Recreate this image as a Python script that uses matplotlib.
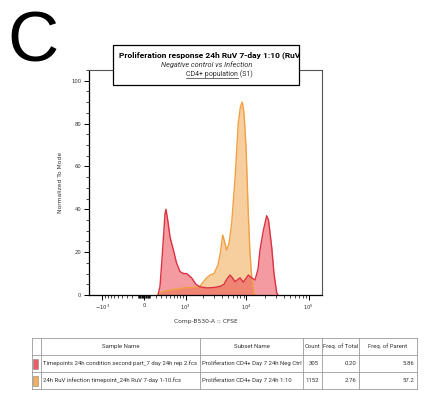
import numpy as np
import matplotlib
matplotlib.use("Agg")
import matplotlib.pyplot as plt
from matplotlib.patches import Rectangle
from matplotlib.lines import Line2D
from matplotlib.transforms import Bbox, TransformedBbox
from matplotlib.ticker import FixedLocator, MultipleLocator

W, H = 444, 393

# CFSE histograms (x = Comp-B530-A, y = % of mode)
neg_x = [244, 283, 333, 387, 409, 456, 505, 593, 683, 793, 918, 1044, 1278, 1512,
         1760, 2300, 2990, 3744, 4347, 4856, 5427, 5958, 6534, 7870, 8900, 10710,
         12150, 13725, 15345, 16515, 18675, 21150, 22635, 25470, 27765, 30690, 32175]
neg_y = [0, 4, 20, 38, 40, 34, 27, 21, 15, 11, 10, 10, 8, 5,
         3.8, 3.3, 3.5, 4, 5, 7.5, 9.3, 8, 6.2, 8, 6, 9.3,
         8, 7, 12, 21, 30, 37, 35, 22.5, 10, 1, 0]

inf_x = [250, 283, 409, 593, 793, 1044, 1364, 1760, 1975, 2273, 2574, 2990, 3474,
         3812, 4140, 4424, 4800, 5229, 5782, 6534, 7380, 8010, 8577, 9135, 9855,
         10710, 11416, 12150, 13230, 13725]
inf_y = [0, 1, 2, 2.5, 3, 3.5, 3.5, 4, 6, 8, 9.3, 10, 14,
         20, 28, 25, 21, 24, 33.5, 53.7, 80, 88, 90, 85, 69,
         38, 19.6, 8.5, 1, 0]

x_ticks = [-1000, 0, 1000, 10000, 100000]
x_tick_labels = ['$-10^3$', '0', '$10^3$', '$10^4$', '$10^5$']
y_ticks = [0, 20, 40, 60, 80, 100]

title_lines = ['Proliferation response 24h RuV 7-day 1:10 (RuV)',
               'Negative control vs Infection',
               'CD4+ population', ' (S1)']

table_header = ['', 'Sample Name', 'Subset Name', 'Count', 'Freq. of Total', 'Freq. of Parent']
sample_names = ['Timepoints 24h condition second part_7 day 24h rep 2.fcs',
                '24h RuV infection timepoint_24h RuV 7-day 1-10.fcs']
subset_names = ['Proliferation CD4+ Day 7 24h Neg Ctrl',
                'Proliferation CD4+ Day 7 24h 1:10']
counts = ['305', '1152']
freq_total = ['0.20', '2.76']
freq_parent = ['5.86', '57.2']

neg_color = '#e8404c'
inf_color = '#f0a040'


def fx(px):
    return px / W


def fy(py):
    return 1 - py / H


def px_box(x0, y0, x1, y1):
    return TransformedBbox(Bbox.from_extents(fx(x0), fy(y1), fx(x1), fy(y0)), fig.transFigure)


fig = plt.figure(figsize=(W / 100, H / 100), dpi=100)
renderer = fig.canvas.get_renderer()

# big panel letter
fig.text(fx(7), fy(11), 'C', fontsize=51, family='Liberation Sans', va='top', ha='left')

ax = fig.add_axes([fx(89), fy(295), (322 - 89) / W, (295 - 70) / H])

# biexponential-like display axis
LW = 450
ax.set_xscale('function', functions=(lambda v: np.arcsinh(np.asarray(v) / LW),
                                     lambda u: LW * np.sinh(u)))
ax.set_xlim(-1694, 164200)
ax.set_ylim(0, 105)

ax.fill_between(inf_x, inf_y, 0, color=inf_color, alpha=0.5, lw=0)
ax.plot(inf_x, inf_y, color=inf_color, lw=1.0)
ax.fill_between(neg_x, neg_y, 0, color=neg_color, alpha=0.52, lw=0)
ax.plot(neg_x, neg_y, color='#dc3040', lw=1.0)

minor = []
for d in [10, 100, 1000, 10000]:
    for m in range(2, 10):
        minor.append(m * d)
for m in range(1, 10):
    minor.append(-m * 10)
    minor.append(-m * 100)
minor += [100]
ax.xaxis.set_major_locator(FixedLocator(x_ticks))
ax.xaxis.set_minor_locator(FixedLocator(sorted(minor)))
ax.set_xticklabels(x_tick_labels)
ax.yaxis.set_major_locator(FixedLocator(y_ticks))
ax.yaxis.set_minor_locator(MultipleLocator(5))

ax.tick_params(axis='both', which='major', labelsize=3.8, length=3.5, width=0.7,
               labelcolor='#333333', pad=2)
ax.tick_params(axis='both', which='minor', length=2, width=0.5)
for s in ['left', 'bottom']:
    ax.spines[s].set_linewidth(0.9)
for s in ['top', 'right']:
    ax.spines[s].set_linewidth(0.8)
    ax.spines[s].set_color('#555555')

ax.set_ylabel('Normalized To Mode', fontsize=4.3, color='#333333', labelpad=6)
ax.set_xlabel('Comp-B530-A :: CFSE', fontsize=4.3, color='#333333', labelpad=5)

# title box overlapping the plot
box = Rectangle((fx(113), fy(85)), (299 - 113) / W, 40 / H, transform=fig.transFigure,
                fc='white', ec='black', lw=0.9, zorder=5)
fig.add_artist(box)
t = fig.text(fx(119), fy(55), title_lines[0], fontsize=6.05, family='Roboto',
             fontweight='bold', va='center', ha='left', zorder=6)
t.set_clip_box(px_box(113, 45, 298.5, 85))
fig.text(fx(206.5), fy(64.5), title_lines[1], fontsize=5.3, family='Roboto',
         style='italic', color='#333333', va='center', ha='center', zorder=6)
u1 = fig.text(fx(186), fy(74), title_lines[2], fontsize=5.0, family='Roboto',
              color='#333333', va='center', ha='left', zorder=6)
w1 = u1.get_window_extent(renderer).width
fig.text(fx(186 + w1), fy(74), title_lines[3], fontsize=5.0, family='Roboto',
         color='#333333', va='center', ha='left', zorder=6)
fig.add_artist(Line2D([fx(186), fx(186 + w1)], [fy(78.3), fy(78.3)], color='#333333',
                      lw=0.5, zorder=6))

# sample table
cols = [31.5, 41, 200, 303, 322, 359, 417]
rows = [338, 355, 372, 389]
grid = '#9a9a9a'
for c in cols:
    fig.add_artist(Line2D([fx(c), fx(c)], [fy(rows[0]), fy(rows[-1])], color=grid, lw=0.6))
for r in rows:
    fig.add_artist(Line2D([fx(cols[0]), fx(cols[-1])], [fy(r), fy(r)], color=grid, lw=0.6))

tfont = dict(fontsize=4.3, family='Roboto', color='#333333', va='center')
for i, name in enumerate(table_header):
    if name:
        fig.text(fx((cols[i] + cols[i + 1]) / 2), fy((rows[0] + rows[1]) / 2), name,
                 ha='center', **tfont)

row_colors = [neg_color, inf_color]
for j in range(len(sample_names)):
    yc = (rows[j + 1] + rows[j + 2]) / 2
    fig.add_artist(Rectangle((fx(32.5), fy(yc + 5)), 5 / W, 10 / H,
                             transform=fig.transFigure, fc=row_colors[j],
                             ec='#777777', lw=0.4, alpha=0.85))
    a = fig.text(fx(cols[1] + 2), fy(yc), sample_names[j], ha='left', **tfont)
    a.set_clip_box(px_box(cols[1], rows[j + 1], cols[2] - 1, rows[j + 2]))
    b = fig.text(fx(cols[2] + 2), fy(yc), subset_names[j], ha='left', **tfont)
    b.set_clip_box(px_box(cols[2], rows[j + 1], cols[3] - 1, rows[j + 2]))
    for k, val in enumerate([counts[j], freq_total[j], freq_parent[j]]):
        fig.text(fx(cols[k + 4] - 3), fy(yc), val, ha='right', **tfont)

fig.savefig('out.png', dpi=100)
